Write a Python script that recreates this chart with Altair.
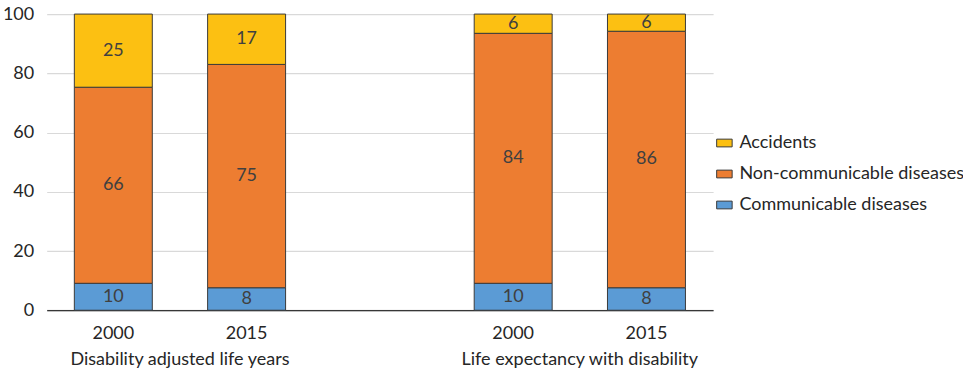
import altair as alt
import pandas as pd

# ---- data ----
slots = ["D2000", "D2015", "gap", "L2000", "L2015"]
slot_years = ["2000", "2015", "", "2000", "2015"]
bar_slots = ["D2000", "D2015", "L2000", "L2015"]
groups = ["Disability adjusted life years", "Life expectancy with disability"]
group_first_slot = ["D2000", "L2000"]

causes = ["Communicable diseases", "Non-communicable diseases", "Accidents"]
communicable = [9.1, 7.6, 9.1, 7.6]
noncommunicable = [66.2, 75.4, 84.4, 86.6]
accidents = [24.7, 17.0, 6.5, 5.8]
label_comm = ["10", "8", "10", "8"]
label_noncomm = ["66", "75", "84", "86"]
label_acc = ["25", "17", "6", "6"]

legend_order = ["Accidents", "Non-communicable diseases", "Communicable diseases"]
colors = ["#FCC012", "#ED7D31", "#5B9BD5"]

rows = []
for i, s in enumerate(bar_slots):
    for k, (cause, vals, labs) in enumerate(zip(
            causes,
            [communicable, noncommunicable, accidents],
            [label_comm, label_noncomm, label_acc])):
        rows.append({"slot": s, "cause": cause, "value": vals[i],
                     "label": labs[i], "idx": k})
df = pd.DataFrame(rows)
gdf = pd.DataFrame({"slot": group_first_slot, "group": groups})

FONT = "Lato"
W, H = 666.7, 296.3
year_map = "{" + ",".join(f"'{s}':'{y}'" for s, y in zip(slots, slot_years)) + "}"

xscale = alt.Scale(domain=slots, paddingInner=0.415, paddingOuter=0.2075)
yscale = alt.Scale(domain=[0, 100], nice=False)

base = alt.Chart(df).transform_stack(
    stack="value", groupby=["slot"], as_=["y0", "y1"],
    sort=[alt.SortField("idx", order="ascending")]
).transform_calculate(mid="(datum.y0 + datum.y1) / 2")

bars = base.mark_bar(stroke="#3a3a3a", strokeWidth=1).encode(
    x=alt.X("slot:N", scale=xscale, title=None,
            axis=alt.Axis(labelExpr=f"{year_map}[datum.value]", labelAngle=0,
                          ticks=False, domainColor="#000000", domainWidth=1.2,
                          labelFont=FONT, labelFontSize=18, labelColor="#262626",
                          labelPadding=14, grid=False)),
    y=alt.Y("y0:Q", scale=yscale, title=None,
            axis=alt.Axis(values=[0, 20, 40, 60, 80, 100], domain=False, ticks=False,
                          gridColor="#d9d9d9", gridWidth=1.2,
                          labelFont=FONT, labelFontSize=18, labelColor="#262626",
                          labelPadding=13)),
    y2="y1:Q",
    color=alt.Color("cause:N", scale=alt.Scale(domain=legend_order, range=colors),
                    legend=alt.Legend(title=None, orient="none", legendX=669, legendY=120,
                                      symbolType="M-1,-0.5H1V0.5H-1Z", symbolSize=240,
                                      symbolStrokeColor="#3a3a3a", symbolStrokeWidth=1,
                                      symbolOpacity=1, labelLimit=0,
                                      labelFont=FONT, labelFontSize=18, labelColor="#262626",
                                      rowPadding=13, labelOffset=6)),
)

texts = base.mark_text(font=FONT, fontSize=18, color="#404040", baseline="middle").encode(
    x=alt.X("slot:N", scale=xscale),
    y=alt.Y("mid:Q", scale=yscale),
    text="label:N",
)

glabels = alt.Chart(gdf).mark_text(font=FONT, fontSize=18, color="#262626",
                                  baseline="middle", dx=W / 10).encode(
    x=alt.X("slot:N", scale=xscale),
    y=alt.value(H + 50),
    text="group:N",
)

chart = alt.layer(bars, texts, glabels).properties(
    width=W, height=H,
    autosize=alt.AutoSizeParams(type="none"),
    padding={"left": 46.7, "top": 14, "right": 250, "bottom": 63},
).configure_view(stroke=None)

chart.save("out.html", embed_options={"renderer": "svg", "actions": False})
